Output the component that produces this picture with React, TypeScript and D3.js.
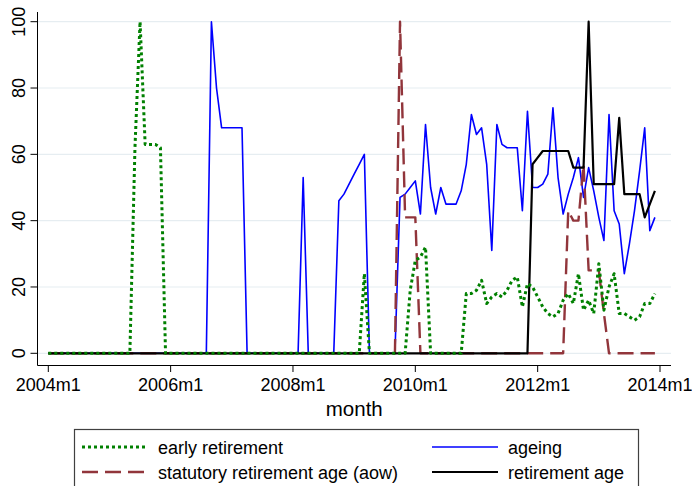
// Monthly share of news mentions, 2004m1–2013m12, four topics (Stata-style line plot).

import * as d3 from "d3";

const W = 692;
const H = 486;

// one row per year, Jan..Dec
const earlyRetirement = [
  0, 0, 0, 0, 0, 0, 0, 0, 0, 0, 0, 0,
  0, 0, 0, 0, 0, 62, 100, 63, 63, 63, 62, 0,
  0, 0, 0, 0, 0, 0, 0, 0, 0, 0, 0, 0,
  0, 0, 0, 0, 0, 0, 0, 0, 0, 0, 0, 0,
  0, 0, 0, 0, 0, 0, 0, 0, 0, 0, 0, 0,
  0, 0, 24, 0, 0, 0, 0, 0, 0, 0, 0, 19,
  28, 29, 32, 0, 0, 0, 0, 0, 0, 0, 18, 18,
  19, 22, 15, 17, 18, 17, 19, 22, 23, 14, 21, 20,
  17, 14, 12, 11, 12, 16, 18, 15, 24, 13, 16, 12,
  27, 13, 20, 24, 12, 12, 11, 10, 11, 15, 15, 18,
];

const ageing = [
  0, 0, 0, 0, 0, 0, 0, 0, 0, 0, 0, 0,
  0, 0, 0, 0, 0, 0, 0, 0, 0, 0, 0, 0,
  0, 0, 0, 0, 0, 0, 0, 0, 100, 80, 68, 68,
  68, 68, 68, 0, 0, 0, 0, 0, 0, 0, 0, 0,
  0, 0, 53, 0, 0, 0, 0, 0, 0, 46, 48, 51,
  54, 57, 60, 0, 0, 0, 0, 0, 0, 47, 48, 50,
  52, 42, 69, 50, 42, 50, 45, 45, 45, 49, 57, 72,
  66, 68, 57, 31, 69, 63, 62, 62, 62, 43, 73, 50,
  50, 51, 54, 74, 53, 42, 48, 53, 59, 47, 56, 49,
  41, 34, 72, 43, 39, 24, 33, 43, 55, 68, 37, 41,
];

const statutoryAge = [
  0, 0, 0, 0, 0, 0, 0, 0, 0, 0, 0, 0,
  0, 0, 0, 0, 0, 0, 0, 0, 0, 0, 0, 0,
  0, 0, 0, 0, 0, 0, 0, 0, 0, 0, 0, 0,
  0, 0, 0, 0, 0, 0, 0, 0, 0, 0, 0, 0,
  0, 0, 0, 0, 0, 0, 0, 0, 0, 0, 0, 0,
  0, 0, 0, 0, 0, 0, 0, 0, 0, 100, 41, 41,
  41, 0, 0, 0, 0, 0, 0, 0, 0, 0, 0, 0,
  0, 0, 0, 0, 0, 0, 0, 0, 0, 0, 0, 0,
  0, 0, 0, 0, 0, 0, 43, 40, 40, 57, 25, 25,
  25, 12, 0, 0, 0, 0, 0, 0, 0, 0, 0, 0,
];

const retirementAge = [
  0, 0, 0, 0, 0, 0, 0, 0, 0, 0, 0, 0,
  0, 0, 0, 0, 0, 0, 0, 0, 0, 0, 0, 0,
  0, 0, 0, 0, 0, 0, 0, 0, 0, 0, 0, 0,
  0, 0, 0, 0, 0, 0, 0, 0, 0, 0, 0, 0,
  0, 0, 0, 0, 0, 0, 0, 0, 0, 0, 0, 0,
  0, 0, 0, 0, 0, 0, 0, 0, 0, 0, 0, 0,
  0, 0, 0, 0, 0, 0, 0, 0, 0, 0, 0, 0,
  0, 0, 0, 0, 0, 0, 0, 0, 0, 0, 0, 57,
  59, 61, 61, 61, 61, 61, 61, 56, 56, 56, 100, 51,
  51, 51, 51, 51, 71, 48, 48, 48, 48, 41, 45, 49,
];

const xTickMonths = [0, 24, 48, 72, 96, 120];
const xTickLabels = ["2004m1", "2006m1", "2008m1", "2010m1", "2012m1", "2014m1"];
const yTicks = [0, 20, 40, 60, 80, 100];

const FONT = "'Liberation Sans', Arial, Helvetica, sans-serif";

// legend order (Stata fills row by row)
const series = [
  { key: "early", label: "early retirement", data: earlyRetirement, color: "#008000", width: 3, dash: "3 3" },
  { key: "ageing", label: "ageing", data: ageing, color: "#0000ff", width: 1.6, dash: null },
  { key: "aow", label: "statutory retirement age (aow)", data: statutoryAge, color: "#91353b", width: 2.4, dash: "16 7" },
  { key: "ret", label: "retirement age", data: retirementAge, color: "#000000", width: 2.2, dash: null },
];

// green dots sit on top of the black zero line in the original
const drawOrder = ["ageing", "aow", "ret", "early"];

const legendSlots = [
  { col: 0, row: 0 },
  { col: 1, row: 0 },
  { col: 0, row: 1 },
  { col: 1, row: 1 },
];

export default function App() {
  const axisX = 37.5;
  const axisY = 365.5;
  const plotRight = 671;

  const x = d3.scaleLinear().domain([0, 120]).range([48.3, 660]);
  const y = d3.scaleLinear().domain([0, 100]).range([353.3, 21.7]);

  const line = d3
    .line<number>()
    .x((_, i) => x(i))
    .y((d) => y(d));

  const legCols = [82, 432];
  const legRows = [447, 472];

  return (
    <svg
      width={W}
      height={H}
      viewBox={`0 0 ${W} ${H}`}
      style={{ position: "absolute", left: 0, top: 0, background: "#fff" }}
      fontFamily={FONT}
    >
      <rect x={0} y={0} width={W} height={H} fill="#fff" />

      {yTicks.map((t) => (
        <line key={`g${t}`} x1={axisX} x2={plotRight} y1={y(t)} y2={y(t)} stroke="#e6edf1" strokeWidth={1.2} />
      ))}

      {drawOrder.map((k) => {
        const s = series.find((d) => d.key === k)!;
        return (
          <path
            key={s.key}
            d={line(s.data) ?? ""}
            fill="none"
            stroke={s.color}
            strokeWidth={s.width}
            strokeDasharray={s.dash ?? undefined}
            strokeLinejoin="round"
          />
        );
      })}

      {/* y axis */}
      <line x1={axisX} x2={axisX} y1={12} y2={axisY} stroke="#000" strokeWidth={1} />
      {yTicks.map((t) => (
        <g key={`y${t}`}>
          <line x1={axisX - 7} x2={axisX} y1={y(t)} y2={y(t)} stroke="#000" strokeWidth={1} />
          <text
            transform={`translate(25,${y(t)}) rotate(-90)`}
            textAnchor="middle"
            fontSize={18}
            fill="#000"
          >
            {t}
          </text>
        </g>
      ))}

      {/* x axis */}
      <line x1={axisX} x2={plotRight} y1={axisY} y2={axisY} stroke="#000" strokeWidth={1} />
      {xTickMonths.map((m, i) => (
        <g key={`x${m}`}>
          <line x1={x(m)} x2={x(m)} y1={axisY} y2={axisY + 6.5} stroke="#000" strokeWidth={1} />
          <text x={x(m)} y={391} textAnchor="middle" fontSize={18} fill="#000">
            {xTickLabels[i]}
          </text>
        </g>
      ))}
      <text x={(axisX + plotRight) / 2} y={416} textAnchor="middle" fontSize={20.5} fill="#000">
        month
      </text>

      {/* legend */}
      <rect x={74.5} y={429.5} width={564} height={80} fill="#fff" stroke="#404040" strokeWidth={1.2} />
      {series.map((s, i) => {
        const slot = legendSlots[i];
        const lx = legCols[slot.col];
        const ly = legRows[slot.row];
        return (
          <g key={`l${s.key}`}>
            <line
              x1={lx}
              x2={lx + 66}
              y1={ly}
              y2={ly}
              stroke={s.color}
              strokeWidth={s.width}
              strokeDasharray={s.dash ?? undefined}
            />
            <text x={lx + 76} y={ly + 6.5} fontSize={18} fill="#000">
              {s.label}
            </text>
          </g>
        );
      })}
    </svg>
  );
}
